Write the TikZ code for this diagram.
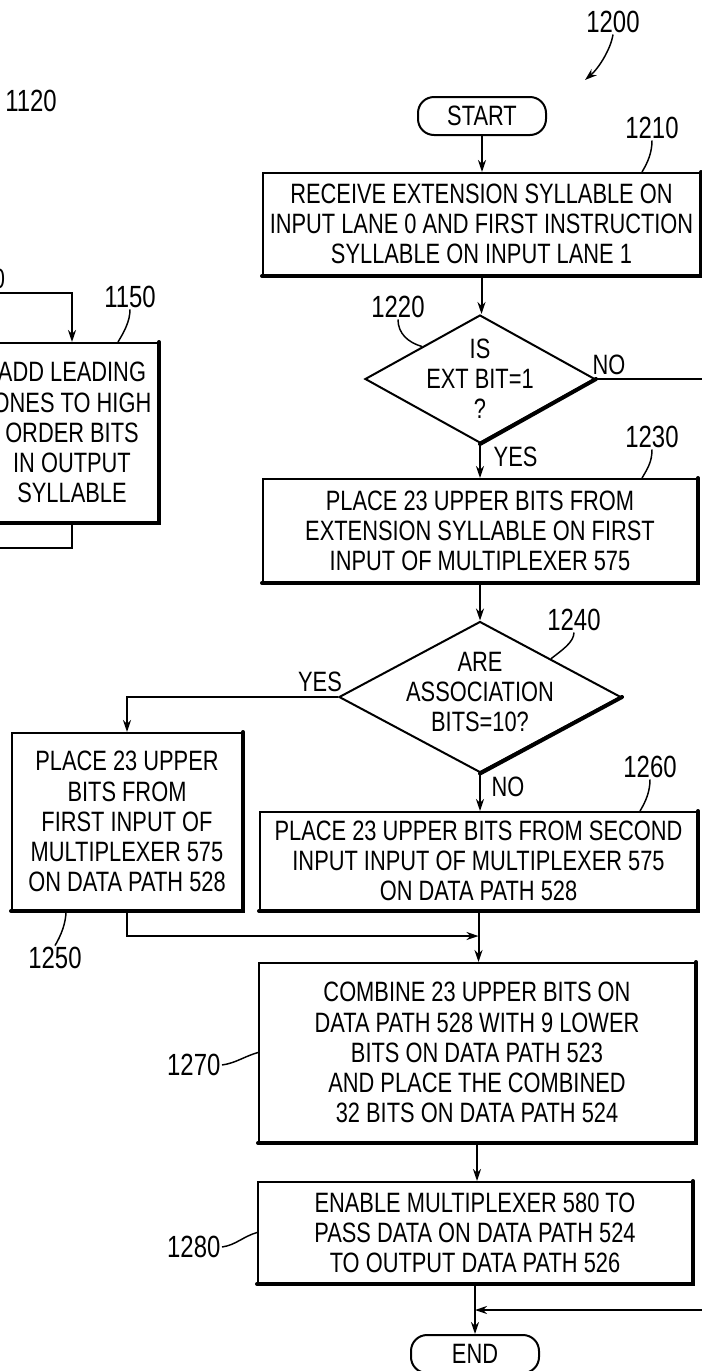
\documentclass[tikz,border=0pt]{standalone}
\usepackage{fontspec}
\setmainfont[FakeStretch=0.78]{Liberation Sans}
\usetikzlibrary{arrows.meta,shapes.geometric,calc}
\newlength\px
\setlength\px{0.75pt}

\begin{document}
\begin{tikzpicture}[x=0.75pt,y=-0.75pt,>={Stealth[length=9pt,width=6pt]},
  every node/.style={font=\fontsize{21}{22.6}\selectfont},
  stepbox/.style={draw,line width=1.5pt,align=center,inner sep=0pt},
  terminal/.style={draw,line width=1.5pt,rounded corners=16\px,minimum width=128\px,minimum height=38\px,inner sep=0pt},
  decision/.style={draw,diamond,line width=1.5pt,inner sep=0pt},
  refnum/.style={font=\fontsize{23}{25}\selectfont,inner sep=1pt},
  flow/.style={line width=1.5pt},
  leader/.style={line width=1.1pt},
  heavy/.style={line width=3pt,line cap=round}]
\useasboundingbox (0,0) rectangle (702,1371);
% reference numbers
\node[refnum] (l1200) at (613,22) {1200};
\node[refnum] (l1120) at (31,101) {1120};
\node[refnum] (l1210) at (652,128) {1210};
\node[refnum] (l1220) at (398,307) {1220};
\node[refnum] (l1230) at (652,437) {1230};
\node[refnum] (l1240) at (574,620) {1240};
\node[refnum] (l1260) at (650,767) {1260};
\node[refnum] (l1250) at (55,958) {1250};
\node[refnum,anchor=east] (l1270) at (222,1065) {1270};
\node[refnum,anchor=east] (l1280) at (222,1247) {1280};
\node[refnum] (l1150) at (130,297) {1150};
\node (frag) at (-1,279) {0};
% flow chart
\node[terminal] (start) at (482,116) {START};
\node[stepbox,minimum width=437\px,minimum height=102\px] (b1210) at (481.5,224)
  {RECEIVE EXTENSION SYLLABLE ON\\INPUT LANE 0 AND FIRST INSTRUCTION\\SYLLABLE ON INPUT LANE 1};
\node[decision,minimum width=230\px,minimum height=128\px] (d1220) at (480,379) {};
\node[align=center] (t1220) at (480,379) {IS\\EXT BIT=1\\?};
\node[stepbox,minimum width=434\px,minimum height=103\px] (b1230) at (480,530.5)
  {PLACE 23 UPPER BITS FROM\\EXTENSION SYLLABLE ON FIRST\\INPUT OF MULTIPLEXER 575};
\node[decision,minimum width=282\px,minimum height=151\px] (d1240) at (480,697) {};
\node[align=center] (t1240) at (480,692) {ARE\\ASSOCIATION\\BITS=10?};
\node[stepbox,minimum width=230\px,minimum height=177\px] (b1250) at (127,821.5)
  {PLACE 23 UPPER\\BITS FROM\\FIRST INPUT OF\\MULTIPLEXER 575\\ON DATA PATH 528};
\node[stepbox,minimum width=437\px,minimum height=98\px] (b1260) at (478.5,861)
  {PLACE 23 UPPER BITS FROM SECOND\\INPUT INPUT OF MULTIPLEXER 575\\ON DATA PATH 528};
\node[stepbox,minimum width=436\px,minimum height=179\px] (b1270) at (477,1052.5)
  {COMBINE 23 UPPER BITS ON\\DATA PATH 528 WITH 9 LOWER\\BITS ON DATA PATH 523\\AND PLACE THE COMBINED\\32 BITS ON DATA PATH 524};
\node[stepbox,minimum width=434\px,minimum height=101\px] (b1280) at (475,1232.5)
  {ENABLE MULTIPLEXER 580 TO\\PASS DATA ON DATA PATH 524\\TO OUTPUT DATA PATH 526};
\node[terminal] (end) at (475,1354) {END};
\node[stepbox,minimum width=172\px,minimum height=179\px] (b1150) at (72,432.5)
  {ADD LEADING\\ONES TO HIGH\\ORDER BITS\\IN OUTPUT\\SYLLABLE};
% shadow edges
\foreach \n in {b1210,b1230,b1250,b1260,b1270,b1280,b1150}
  \draw[heavy] (\n.south west) -- (\n.south east) -- (\n.north east);
\draw[heavy] (d1220.south) -- (d1220.east);
\draw[heavy] (d1240.south) -- (d1240.east);
% branch labels
\node (no1) at (609,365) {NO};
\node[anchor=west] (yes1) at (489,457) {YES};
\node (yes2) at (320,682) {YES};
\node[anchor=west] (no2) at (487,787) {NO};
% connectors
\coordinate (c1200) at (585,80);
\coordinate (noin) at (712,1310);
\coordinate (j1) at (478.5,936);
\coordinate (in1150) at (-10,293);
\coordinate (out1150) at (-10,548);
\draw[flow,->] (start) -- (start |- b1210.north);
\draw[flow,->] (b1210) -- (b1210 |- d1220.north);
\draw[flow,->] (d1220.south) -- (d1220.south |- b1230.north);
\draw[flow,->] (d1220.east) -| (noin) -- (b1280.south |- noin);
\draw[flow,->] (b1230) -- (b1230 |- d1240.north);
\draw[flow,->] (d1240.west) -| (b1250.north);
\draw[flow,->] (d1240.south) -- (d1240.south |- b1260.north);
\draw[flow,->] (b1250.south) |- (j1);
\draw[flow,->] (b1260) -- (b1260 |- b1270.north);
\draw[flow,->] (b1270) -- (b1270 |- b1280.north);
\draw[flow,->] (b1280) -- (b1280 |- end.north);
\draw[flow,->] (in1150) -| (b1150.north);
\draw[flow] (b1150.south) |- (out1150);
% leader lines
\draw[leader,->] (l1200.south) .. controls +(-2,14) and +(14,-12) .. (c1200);
\draw[leader] (l1210.south) .. controls +(0,12) and +(6,-10) .. ($(b1210.north east)+(-59,0)$);
\draw[leader] (l1220.south) .. controls +(0,14) and +(-14,-4) .. ($(d1220.west)!0.5!(d1220.north)$);
\draw[leader] (l1230.south) .. controls +(0,12) and +(6,-10) .. ($(b1230.north east)+(-56,0)$);
\draw[leader] (l1240.south) .. controls +(0,10) and +(10,-8) .. ($(d1240.north)!0.5!(d1240.east)$);
\draw[leader] (l1260.south) .. controls +(0,12) and +(6,-10) .. ($(b1260.north east)+(-58,0)$);
\draw[leader] (l1150.south) .. controls +(0,12) and +(6,-10) .. ($(b1150.north east)+(-41,0)$);
\draw[leader] ($(b1250.south west)+(55,0)$) .. controls +(0,12) and +(6,-10) .. (l1250.north);
\draw[leader] (l1270.east) .. controls +(14,-2) and +(-14,4) .. (b1270.west);
\draw[leader] (l1280.east) .. controls +(14,-2) and +(-14,4) .. (b1280.west);
\end{tikzpicture}
\end{document}
